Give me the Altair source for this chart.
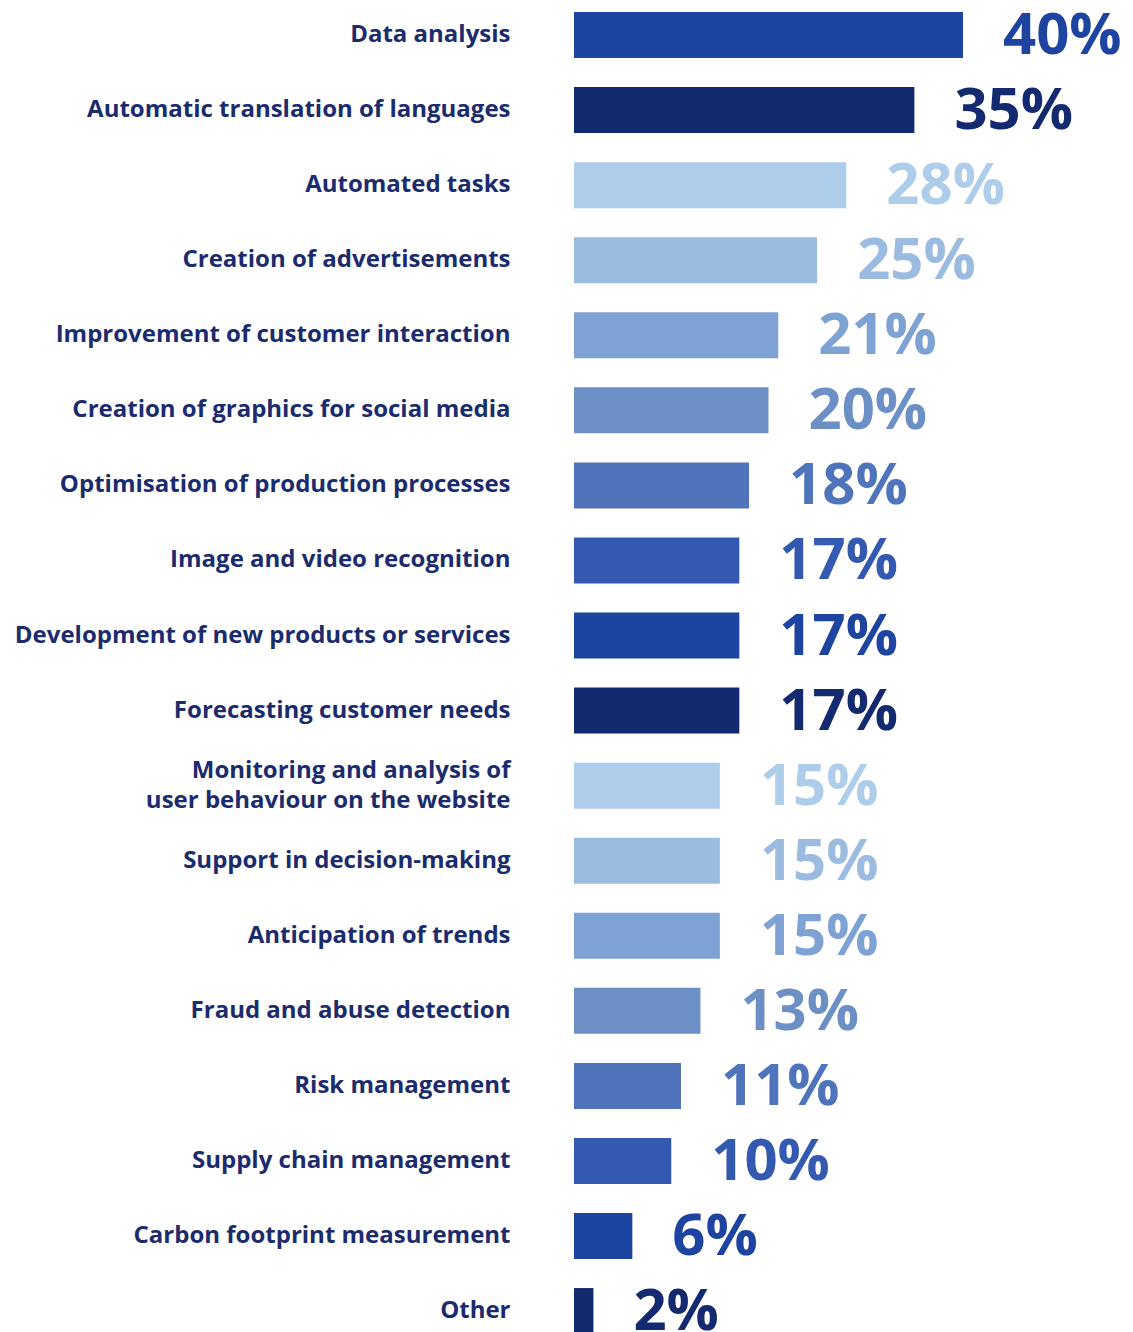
import altair as alt
import pandas as pd

categories = [
    "Data analysis",
    "Automatic translation of languages",
    "Automated tasks",
    "Creation of advertisements",
    "Improvement of customer interaction",
    "Creation of graphics for social media",
    "Optimisation of production processes",
    "Image and video recognition",
    "Development of new products or services",
    "Forecasting customer needs",
    "Monitoring and analysis of|user behaviour on the website",
    "Support in decision-making",
    "Anticipation of trends",
    "Fraud and abuse detection",
    "Risk management",
    "Supply chain management",
    "Carbon footprint measurement",
    "Other",
]
values = [40, 35, 28, 25, 21, 20, 18, 17, 17, 17, 15, 15, 15, 13, 11, 10, 6, 2]

palette = ["#1d44a0", "#142a70", "#aecdea", "#9cbbe0",
           "#7ea2d4", "#6c8fc6", "#4f74bc", "#3459b0"]
colors = [palette[i % len(palette)] for i in range(len(categories))]

df = pd.DataFrame({"category": categories, "value": values})
df["label"] = df["value"].astype(str) + "%"

y_enc = alt.Y(
    "category:N",
    sort=categories,
    scale=alt.Scale(range=[-10.5, 1340.6], paddingInner=0.387, paddingOuter=0.1935),
    axis=alt.Axis(
        title=None, domain=False, ticks=False, grid=False,
        labelPadding=64, labelFont="Open Sans", labelFontWeight="bold",
        labelFontSize=24, labelColor="#1a2b6e", labelLimit=600,
        labelLineHeight=30,
        labelOffset={"condition": {"test": "indexof(datum.value, '|') >= 0", "value": -15}, "value": 0},
        labelExpr="split(datum.label, '|')",
    ),
)
x_enc = alt.X("value:Q", scale=alt.Scale(domain=[0, 40], nice=False), axis=None)
color_enc = alt.Color("category:N", scale=alt.Scale(domain=categories, range=colors), legend=None)

bars = alt.Chart(df).mark_bar(cornerRadius=0).encode(y=y_enc, x=x_enc, color=color_enc)
texts = alt.Chart(df).mark_text(
    align="left", baseline="middle", dx=40, dy=2,
    font="Open Sans", fontWeight="bold", fontSize=58,
).encode(y=y_enc, x=x_enc, text="label:N", color=color_enc)

chart = (bars + texts).properties(
    width=389, height=1324,
    autosize=alt.AutoSizeParams(type="none"),
    padding={"left": 566, "top": 0, "right": 160, "bottom": 0},
).configure_view(stroke=None)

chart.save("out.html", embed_options={"renderer": "svg", "actions": False})
